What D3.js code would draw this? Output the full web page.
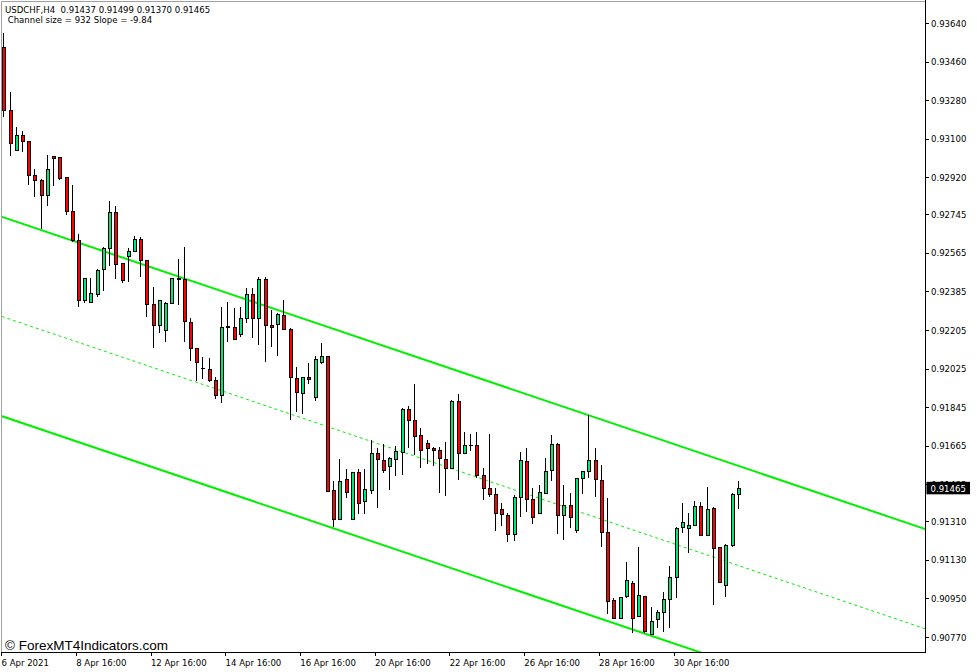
<!DOCTYPE html>
<html><head><meta charset="utf-8">
<script src="https://cdn.jsdelivr.net/npm/d3@7"></script>
<style>
body{margin:0;background:#fff}
svg{display:block}
text{font-family:'DejaVu Sans Condensed','DejaVu Sans',sans-serif;font-stretch:condensed}
</style>
</head><body>
<svg id="chart" width="977" height="672"></svg>
<script>
// ---- data ----
const symbolTitle = "USDCHF,H4  0.91437 0.91499 0.91370 0.91465";
const channelTitle = " Channel size = 932 Slope = -9.84";
const watermark = "\u00A9 ForexMT4Indicators.com";

const opens = [
0.93526,0.93230,0.93043,0.93113,0.93084,0.92928,0.92906,0.92836,0.93017,0.93009,
0.92920,0.92760,0.92622,0.92345,0.92335,0.92369,0.92486,0.92587,0.92753,0.92517,
0.92548,0.92574,0.92626,0.92529,0.92325,0.92228,0.92204,0.92330,0.92448,0.92442,
0.92241,0.92120,0.92026,0.92021,0.91970,0.91901,0.92218,0.92218,0.92182,0.92260,
0.92372,0.92260,0.92439,0.92228,0.92232,0.92275,0.92208,0.91979,0.91909,0.91984,
0.91889,0.92054,0.92080,0.91454,0.91317,0.91505,0.91320,0.91540,0.91403,0.91457,
0.91629,0.91594,0.91569,0.91601,0.91633,0.91834,0.91784,0.91710,0.91676,0.91652,
0.91643,0.91601,0.91556,0.91870,0.91627,0.91664,0.91663,0.91527,0.91465,0.91437,
0.91367,0.91340,0.91247,0.91421,0.91590,0.91414,0.91348,0.91442,0.91546,0.91672,
0.91339,0.91384,0.91267,0.91509,0.91543,0.91596,0.91502,0.91260,0.90940,0.90858,
0.90959,0.91021,0.90864,0.90959,0.90780,0.90853,0.90886,0.90946,0.91047,0.91283,
0.91278,0.91292,0.91378,0.91244,0.91370,0.91188,0.91010,0.91197,0.91437];

const highs = [
0.93592,0.93319,0.93155,0.93135,0.93088,0.92956,0.92911,0.93022,0.93018,0.93014,
0.92922,0.92881,0.92654,0.92448,0.92448,0.92490,0.92594,0.92808,0.92785,0.92518,
0.92587,0.92644,0.92640,0.92532,0.92408,0.92345,0.92337,0.92450,0.92537,0.92592,
0.92260,0.92121,0.92079,0.92073,0.91987,0.92314,0.92337,0.92309,0.92314,0.92400,
0.92400,0.92454,0.92451,0.92299,0.92283,0.92345,0.92213,0.92034,0.91985,0.92049,
0.92084,0.92143,0.92084,0.91501,0.91602,0.91555,0.91543,0.91555,0.91555,0.91691,
0.91652,0.91671,0.91613,0.91663,0.91842,0.91851,0.91951,0.91746,0.91691,0.91659,
0.91659,0.91683,0.91878,0.91905,0.91730,0.91718,0.91727,0.91559,0.91718,0.91465,
0.91398,0.91348,0.91434,0.91636,0.91652,0.91465,0.91481,0.91608,0.91714,0.91676,
0.91481,0.91442,0.91515,0.91546,0.91808,0.91652,0.91574,0.91419,0.90951,0.90959,
0.91119,0.91032,0.91189,0.90962,0.90912,0.90896,0.90982,0.91102,0.91286,0.91398,
0.91351,0.91406,0.91403,0.91470,0.91377,0.91189,0.91205,0.91442,0.91499];

const lows = [
0.93202,0.93020,0.93042,0.93039,0.92883,0.92825,0.92676,0.92786,0.92880,0.92908,
0.92744,0.92618,0.92311,0.92330,0.92334,0.92361,0.92389,0.92504,0.92442,0.92423,
0.92428,0.92570,0.92454,0.92267,0.92120,0.92192,0.92150,0.92329,0.92322,0.92148,
0.92060,0.91967,0.91975,0.91963,0.91883,0.91862,0.92150,0.92161,0.92174,0.92236,
0.92166,0.92135,0.92054,0.92127,0.92084,0.92205,0.91784,0.91823,0.91811,0.91953,
0.91873,0.92045,0.91448,0.91286,0.91316,0.91421,0.91319,0.91345,0.91344,0.91437,
0.91372,0.91535,0.91457,0.91524,0.91527,0.91655,0.91621,0.91562,0.91577,0.91568,
0.91442,0.91431,0.91554,0.91504,0.91626,0.91640,0.91515,0.91411,0.91426,0.91266,
0.91290,0.91213,0.91219,0.91333,0.91356,0.91297,0.91347,0.91441,0.91499,0.91250,
0.91224,0.91281,0.91258,0.91439,0.91515,0.91425,0.91192,0.90876,0.90857,0.90855,
0.90953,0.90790,0.90863,0.90787,0.90779,0.90811,0.90792,0.90814,0.90951,0.91258,
0.91161,0.91291,0.91243,0.91243,0.90920,0.91025,0.90956,0.91189,0.91370];

const closes = [
0.93233,0.93078,0.93115,0.93085,0.92928,0.92906,0.92836,0.92956,0.93008,0.92912,
0.92757,0.92622,0.92345,0.92445,0.92377,0.92481,0.92585,0.92753,0.92512,0.92436,
0.92573,0.92626,0.92529,0.92325,0.92228,0.92342,0.92330,0.92447,0.92442,0.92244,
0.92120,0.92054,0.92023,0.91971,0.91901,0.92218,0.92221,0.92162,0.92260,0.92369,
0.92257,0.92442,0.92228,0.92218,0.92278,0.92208,0.91982,0.91914,0.91984,0.91975,
0.92065,0.92080,0.91449,0.91320,0.91499,0.91445,0.91540,0.91395,0.91461,0.91629,
0.91598,0.91546,0.91605,0.91636,0.91834,0.91780,0.91705,0.91640,0.91652,0.91643,
0.91605,0.91559,0.91873,0.91629,0.91663,0.91666,0.91524,0.91465,0.91437,0.91348,
0.91344,0.91247,0.91421,0.91593,0.91414,0.91330,0.91445,0.91543,0.91672,0.91339,
0.91384,0.91328,0.91509,0.91543,0.91596,0.91504,0.91260,0.90938,0.90858,0.90956,
0.91032,0.90858,0.90963,0.90795,0.90842,0.90886,0.90943,0.91049,0.91278,0.91306,
0.91292,0.91378,0.91244,0.91367,0.91185,0.91026,0.91197,0.91437,0.91465];

const priceTicks = [0.93640,0.93460,0.93280,0.93100,0.92920,0.92745,0.92565,0.92385,
  0.92205,0.92025,0.91845,0.91665,0.91485,0.91310,0.91130,0.90950,0.90770];
const timeLabels = ["6 Apr 2021","8 Apr 16:00","12 Apr 16:00","14 Apr 16:00","16 Apr 16:00",
  "20 Apr 16:00","22 Apr 16:00","26 Apr 16:00","28 Apr 16:00","30 Apr 16:00"];
const timeLabelBars = [0,12,24,36,48,60,72,84,96,108];

// regression channel (bar index 0 based)
const channelBar0 = 0;
const channelUpper0 = 0.92732;
const channelSlope = -0.0000984;   // per bar
const channelSize = 0.00932;
const currentPrice = 0.91465;

// ---- layout ----
const svg = d3.select("#chart");
const P = {left:1.5, top:1.5, right:925, bottom:652};
const x = d3.scaleLinear().domain([0,148]).range([3.3,924.5]);
const y = d3.scaleLinear().domain([0.90770,0.93640]).range([637,23]);
const bull = "#00e67a", bear = "#ff0000";

svg.append("rect").attr("width",977).attr("height",672).attr("fill","#fff");
svg.append("defs").append("clipPath").attr("id","plotclip")
  .append("rect").attr("x",P.left).attr("y",P.top)
  .attr("width",P.right-P.left).attr("height",P.bottom-P.top);

const plot = svg.append("g").attr("clip-path","url(#plotclip)");

// channel lines
const chan = (off) => (i) => channelUpper0 + channelSlope*(i-channelBar0) - off;
const lineGen = (f) => d3.line().x(d=>x(d)).y(d=>y(f(d)));
const span = [-3, 152];
plot.append("path").datum(span).attr("d", lineGen(chan(0)))
  .attr("stroke","#00f000").attr("stroke-width",2).attr("fill","none");
plot.append("path").datum(span).attr("d", lineGen(chan(channelSize/2)))
  .attr("stroke","#00f000").attr("stroke-width",1).attr("stroke-dasharray","3,3").attr("fill","none");
plot.append("path").datum(span).attr("d", lineGen(chan(channelSize)))
  .attr("stroke","#00f000").attr("stroke-width",2).attr("fill","none");

// candles
const data = opens.map((o,i)=>({i, o, h:highs[i], l:lows[i], c:closes[i]}));
const cg = plot.append("g").attr("shape-rendering","crispEdges");
const cx = d => Math.round(x(d.i)) + 0.5;
cg.selectAll("line.w").data(data).join("line").attr("class","w")
  .attr("x1",cx).attr("x2",cx)
  .attr("y1",d=>y(d.h)).attr("y2",d=>y(d.l))
  .attr("stroke","#000").attr("stroke-width",1);
cg.selectAll("rect.b").data(data).join("rect").attr("class","b")
  .attr("x",d=>cx(d)-1.5)
  .attr("width",3)
  .attr("y",d=>y(Math.max(d.o,d.c)))
  .attr("height",d=>Math.max(0.5, Math.abs(y(d.o)-y(d.c))))
  .attr("fill",d=>d.c>=d.o?bull:bear)
  .attr("stroke","#000").attr("stroke-width",1);

// frame
svg.append("line").attr("x1",P.left).attr("x2",P.right).attr("y1",P.top).attr("y2",P.top)
  .attr("stroke","#a0a0a0");
svg.append("line").attr("x1",P.left).attr("x2",P.left).attr("y1",P.top).attr("y2",P.bottom)
  .attr("stroke","#a0a0a0");
svg.append("line").attr("x1",P.right+0.5).attr("x2",P.right+0.5).attr("y1",0).attr("y2",P.bottom+1)
  .attr("stroke","#000");
svg.append("line").attr("x1",1).attr("x2",P.right+1).attr("y1",P.bottom+0.5).attr("y2",P.bottom+0.5)
  .attr("stroke","#000");

// price axis
const ya = svg.append("g").attr("shape-rendering","crispEdges");
ya.selectAll("line").data(priceTicks).join("line")
  .attr("x1",P.right+1).attr("x2",P.right+4)
  .attr("y1",d=>Math.round(y(d))+0.5).attr("y2",d=>Math.round(y(d))+0.5)
  .attr("stroke","#000");
svg.append("g").selectAll("text").data(priceTicks).join("text")
  .attr("x",931).attr("y",d=>y(d)+3.5)
  .attr("font-size","9.5px").attr("fill","#000")
  .text(d=>d.toFixed(5));

// current price marker
svg.append("rect").attr("x",926.5).attr("y",y(currentPrice)-6.5)
  .attr("width",43.5).attr("height",12.5).attr("fill","#000");
svg.append("text").attr("x",930.5).attr("y",y(currentPrice)+3.5)
  .attr("font-size","9.5px").attr("fill","#fff").text(currentPrice.toFixed(5));

// time axis
const xa = svg.append("g").attr("shape-rendering","crispEdges");
xa.selectAll("line").data(timeLabelBars).join("line")
  .attr("x1",d=>Math.round(x(d))-1.5).attr("x2",d=>Math.round(x(d))-1.5)
  .attr("y1",P.bottom+1).attr("y2",P.bottom+4).attr("stroke","#000");
svg.append("g").selectAll("text").data(timeLabels).join("text")
  .attr("x",(d,k)=>x(timeLabelBars[k])-1.8).attr("y",665.5)
  .attr("font-size","9.5px").attr("fill","#000").text(d=>d);

// titles
svg.append("text").attr("x",5).attr("y",12.5).attr("font-size","9.5px")
  .attr("fill","#000").attr("xml:space","preserve").style("white-space","pre").text(symbolTitle);
svg.append("text").attr("x",5).attr("y",22.5).attr("font-size","9.5px")
  .attr("fill","#000").style("white-space","pre").text(channelTitle);

// watermark
svg.append("text").attr("x",5).attr("y",650).attr("font-size","13.5px")
  .attr("fill","#000").style("font-family","'Liberation Sans',Arial,sans-serif")
  .style("font-stretch","normal").text(watermark);
</script>
</body></html>
